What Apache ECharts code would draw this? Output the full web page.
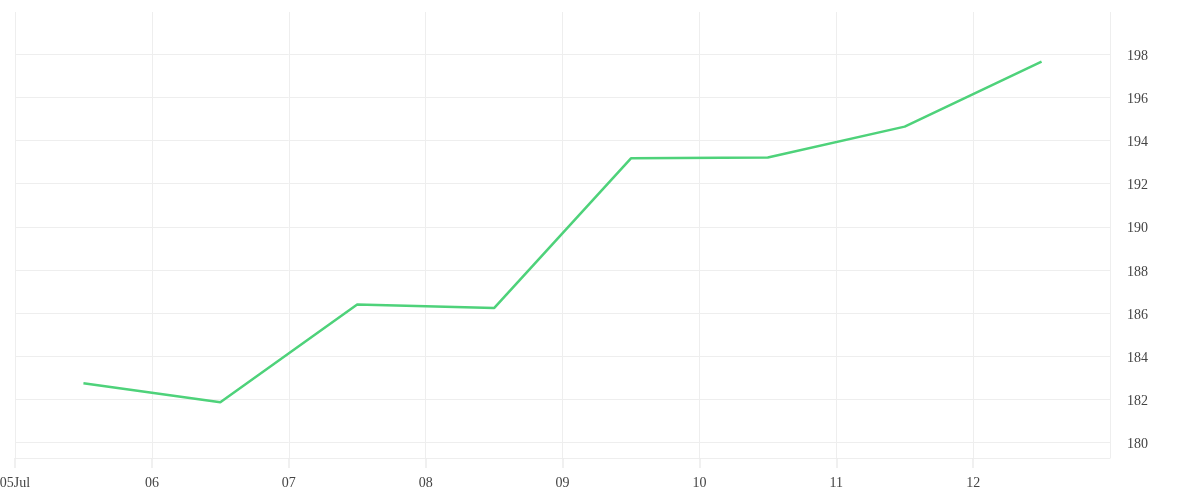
<!DOCTYPE html>
<html>
<head>
<meta charset="utf-8">
<script src="https://cdn.jsdelivr.net/npm/echarts@6/dist/echarts.min.js"></script>
<style>html,body{margin:0;padding:0;background:#fff}#c{width:1200px;height:500px}</style>
</head>
<body>
<div id="c"></div>
<script>
var dates = ['2023-07-05T12:00:00Z','2023-07-06T12:00:00Z','2023-07-07T12:00:00Z','2023-07-08T12:00:00Z','2023-07-09T12:00:00Z','2023-07-10T12:00:00Z','2023-07-11T12:00:00Z','2023-07-12T12:00:00Z'];
var values = [182.74, 181.86, 186.39, 186.23, 193.18, 193.22, 194.65, 197.67];
var xMin = '2023-07-05T00:00:00Z';
var xMax = '2023-07-13T00:00:00Z';
var yMin = 179.27;
var yMax = 199.97;

var chart = echarts.init(document.getElementById('c'));
var gridColor = '#eeeeee';
var font = '"Liberation Serif", serif';
chart.setOption({
  useUTC: true,
  animation: false,
  grid: {left: 15, right: 90, top: 12, bottom: 42, containLabel: false, outerBoundsMode: 'none'},
  xAxis: {
    type: 'time',
    min: Date.parse(xMin),
    max: Date.parse(xMax),
    minInterval: 86400000,
    maxInterval: 86400000,
    splitNumber: 8,
    axisLine: {show: true, lineStyle: {color: gridColor, width: 1}},
    axisTick: {show: true, inside: false, length: 10, lineStyle: {color: '#ebebeb', width: 1.5}},
    splitLine: {show: true, lineStyle: {color: gridColor, width: 1}},
    axisLabel: {
      color: '#444', fontFamily: font, fontSize: 14, margin: 18,
      showMaxLabel: false, showMinLabel: true,
      formatter: function (v) {
        var d = new Date(v);
        var day = ('0' + d.getUTCDate()).slice(-2);
        if (d.getUTCDate() === 5) return day + 'Jul';
        return day;
      }
    }
  },
  yAxis: {
    type: 'value',
    position: 'right',
    min: yMin,
    max: yMax,
    splitNumber: 10,
    axisLine: {show: false},
    axisTick: {show: false},
    splitLine: {show: true, showMaxLine: false, lineStyle: {color: gridColor, width: 1}},
    axisLabel: {
      color: '#444', fontFamily: font, fontSize: 14, margin: 17,
      lineHeight: 4, verticalAlign: 'top',
      showMinLabel: false, showMaxLabel: false,
      formatter: function (v) { return String(Math.round(v)); }
    }
  },
  series: [{
    type: 'line',
    data: dates.map(function (d, i) { return [Date.parse(d), values[i]]; }),
    showSymbol: false,
    lineStyle: {color: '#4ed27a', width: 2.5},
    itemStyle: {color: '#4ed27a'}
  }]
});
</script>
</body>
</html>
